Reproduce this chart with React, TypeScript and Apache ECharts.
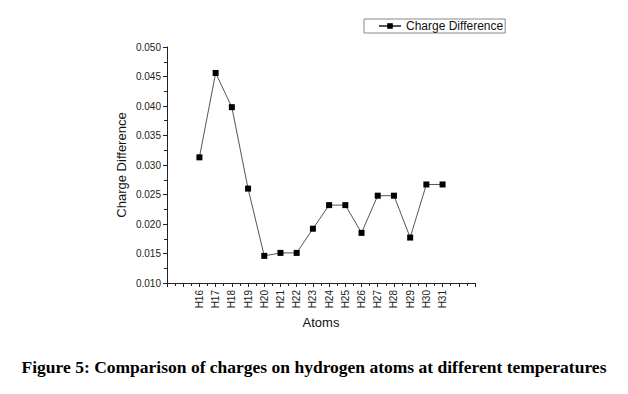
import React, { useEffect, useRef } from "react";
import * as echarts from "echarts";

const atomIndices = [16, 17, 18, 19, 20, 21, 22, 23, 24, 25, 26, 27, 28, 29, 30, 31];
const chargeDifference = [
  0.0313, 0.0456, 0.0398, 0.026, 0.0146, 0.0151, 0.0151, 0.0192, 0.0232, 0.0232,
  0.0185, 0.0248, 0.0248, 0.0177, 0.0267, 0.0267,
];
const seriesName = "Charge Difference";
const caption = "Figure 5: Comparison of charges on hydrogen atoms at different temperatures";

export default function App() {
  const ref = useRef<HTMLDivElement>(null);
  useEffect(() => {
    document.body.style.margin = "0";
    const chart = echarts.init(ref.current!, null, { renderer: "svg" });
    const font = "Arial, 'Liberation Sans', sans-serif";
    chart.setOption({
      animation: false,
      backgroundColor: "#ffffff",
      grid: { left: 167, right: 153, top: 47, bottom: 111 },
      legend: {
        data: [seriesName],
        left: 364,
        top: 19,
        itemWidth: 22,
        itemHeight: 7,
        padding: [1, 2, 1, 14],
        borderColor: "#888",
        borderWidth: 1,
        borderRadius: 0,
        textStyle: { fontFamily: font, fontSize: 12, color: "#111" },
      },
      xAxis: {
        type: "value",
        min: 14,
        max: 33,
        interval: 1,
        name: "Atoms",
        nameLocation: "middle",
        nameGap: 29,
        nameTextStyle: { fontFamily: font, fontSize: 13, color: "#111" },
        axisLine: { lineStyle: { color: "#222", width: 1 } },
        axisTick: { length: 4, inside: false, lineStyle: { color: "#222" } },
        minorTick: { show: true, splitNumber: 2, length: 3, lineStyle: { color: "#222" } },
        splitLine: { show: false },
        axisLabel: {
          rotate: 90,
          margin: 7,
          fontFamily: font,
          fontSize: 10,
          color: "#222",
          formatter: (v: number) => (atomIndices.includes(v) ? "H" + v : ""),
        },
      },
      yAxis: {
        type: "value",
        min: 0.01,
        max: 0.05,
        interval: 0.005,
        name: "Charge Difference",
        nameLocation: "middle",
        nameGap: 39,
        nameTextStyle: { fontFamily: font, fontSize: 13, color: "#111" },
        axisLine: { show: true, lineStyle: { color: "#222", width: 1 } },
        axisTick: { show: true, length: 4, lineStyle: { color: "#222" } },
        minorTick: { show: true, splitNumber: 2, length: 3, lineStyle: { color: "#222" } },
        splitLine: { show: false },
        axisLabel: {
          margin: 6,
          fontFamily: font,
          fontSize: 10,
          color: "#222",
          formatter: (v: number) => v.toFixed(3),
        },
      },
      series: [
        {
          name: seriesName,
          type: "line",
          data: atomIndices.map((a, i) => [a, chargeDifference[i]]),
          symbol: "rect",
          symbolSize: 6,
          itemStyle: { color: "#000" },
          lineStyle: { color: "#555", width: 1 },
        },
      ],
      graphic: [
        {
          type: "text",
          left: "center",
          top: 358,
          style: {
            text: caption,
            font: "bold 17.5px 'Liberation Serif', 'Times New Roman', serif",
            fill: "#000",
          },
        },
      ],
    });
    return () => chart.dispose();
  }, []);
  return <div ref={ref} style={{ width: 628, height: 394 }} />;
}
